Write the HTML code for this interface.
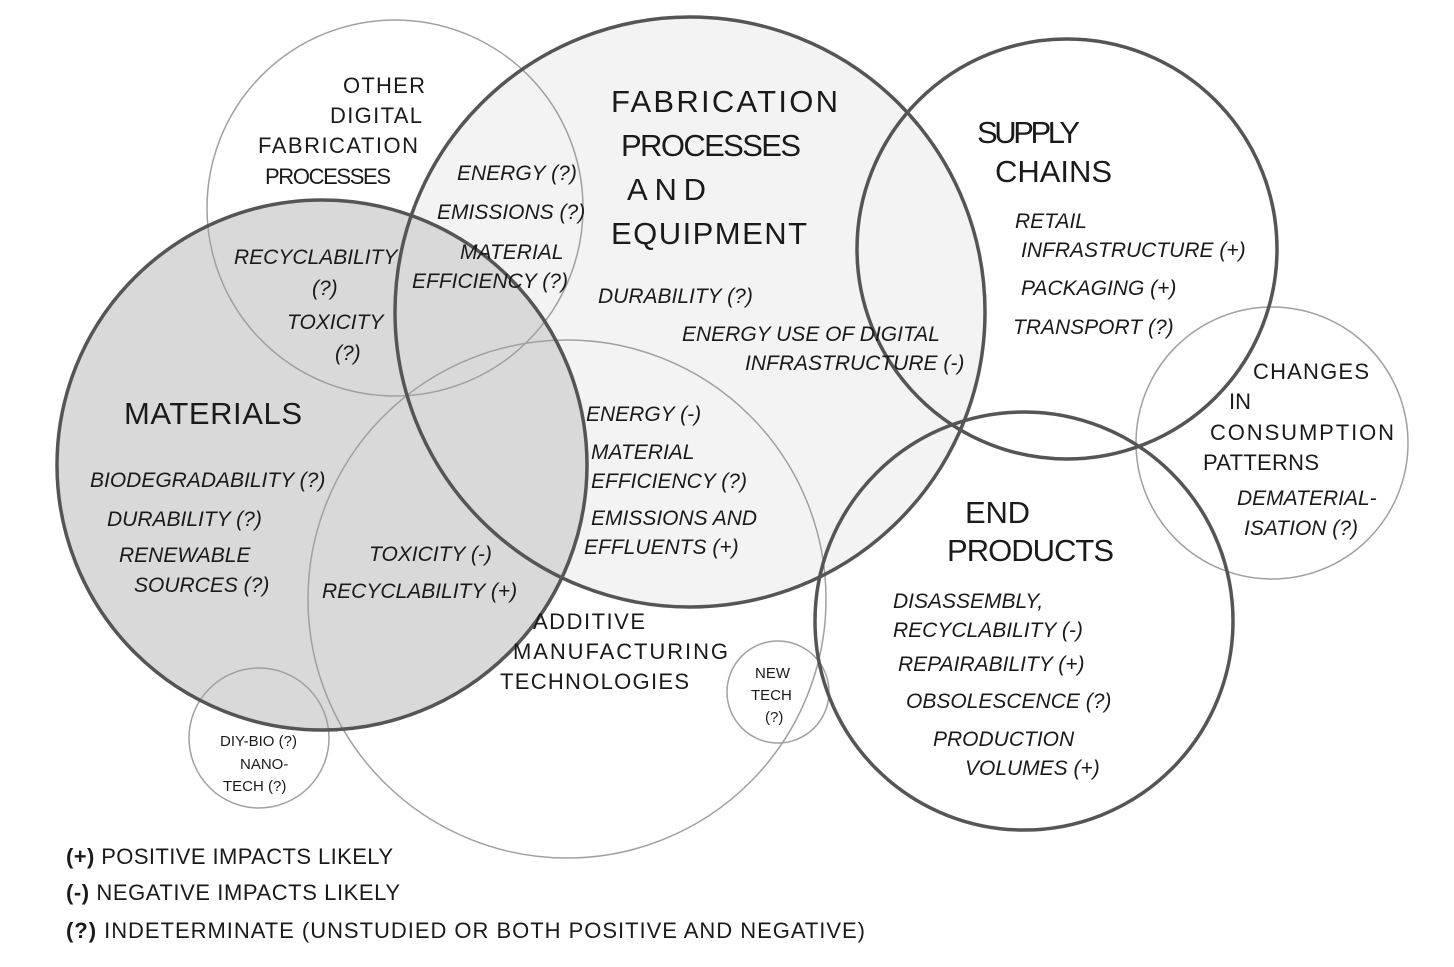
<!DOCTYPE html>
<html><head><style>
body{margin:0;background:#fff;}
svg text{font-family:"Liberation Sans",sans-serif;fill:#1a1a1a;}
.i{font-style:italic;font-size:21px;}
.h{font-size:31px;}
.m{font-size:22px;}
</style></head><body>
<svg width="1454" height="962" xmlns="http://www.w3.org/2000/svg">
<rect width="1454" height="962" fill="#fff"/>
<circle cx="690" cy="312" r="295" fill="#f3f3f3"/>
<circle cx="322" cy="465" r="265" fill="#d9d9d9"/>
<g fill="none" stroke="#a0a0a0" stroke-width="1.5">
<circle cx="395" cy="208" r="188"/>
<circle cx="567" cy="599" r="259"/>
<circle cx="1272" cy="443" r="136"/>
<circle cx="259" cy="738" r="70"/>
<circle cx="778" cy="692" r="51"/>
</g>
<g fill="none" stroke="#555" stroke-width="3.5">
<circle cx="690" cy="312" r="295"/>
<circle cx="322" cy="465" r="265"/>
<circle cx="1067" cy="249" r="210"/>
<circle cx="1024" cy="621" r="209"/>
</g>
<g class="m" lengthAdjust="spacingAndGlyphs">
<text x="343" y="93" textLength="82">OTHER</text><text x="330" y="123" textLength="92">DIGITAL</text>
<text x="258" y="153" textLength="160">FABRICATION</text><text x="265" y="184" textLength="126">PROCESSES</text>
<text x="533" y="629" textLength="112">ADDITIVE</text><text x="513" y="659" textLength="215">MANUFACTURING</text>
<text x="500" y="689" textLength="189">TECHNOLOGIES</text>
<text x="1253" y="379" textLength="116">CHANGES</text><text x="1229" y="409" textLength="22">IN</text>
<text x="1210" y="440" textLength="184">CONSUMPTION</text><text x="1203" y="470" textLength="116">PATTERNS</text>
</g>
<g class="h" lengthAdjust="spacingAndGlyphs">
<text x="611" y="112" textLength="227">FABRICATION</text><text x="621" y="156" textLength="180">PROCESSES</text>
<text x="627" y="200" textLength="79">AND</text><text x="611" y="244" textLength="196">EQUIPMENT</text>
<text x="977" y="143" textLength="103">SUPPLY</text><text x="995" y="182" textLength="117">CHAINS</text>
<text x="124" y="424" textLength="178">MATERIALS</text>
<text x="965" y="523" textLength="65">END</text><text x="947" y="561" textLength="167">PRODUCTS</text>
</g>
<g class="i">
<text x="457" y="180">ENERGY (?)</text>
<text x="437" y="219">EMISSIONS (?)</text>
<text x="460" y="259">MATERIAL</text><text x="412" y="288">EFFICIENCY (?)</text>
<text x="234" y="264">RECYCLABILITY</text><text x="312" y="295">(?)</text>
<text x="287" y="329">TOXICITY</text><text x="335" y="360">(?)</text>
<text x="598" y="303">DURABILITY (?)</text>
<text x="682" y="341">ENERGY USE OF DIGITAL</text>
<text x="745" y="370">INFRASTRUCTURE (-)</text>
<text x="1015" y="228">RETAIL</text>
<text x="1021" y="257">INFRASTRUCTURE (+)</text>
<text x="1021" y="295">PACKAGING (+)</text>
<text x="1013" y="334">TRANSPORT (?)</text>
<text x="586" y="421">ENERGY (-)</text>
<text x="591" y="459">MATERIAL</text><text x="591" y="488">EFFICIENCY (?)</text>
<text x="591" y="525">EMISSIONS AND</text><text x="584" y="554">EFFLUENTS (+)</text>
<text x="90" y="487">BIODEGRADABILITY (?)</text>
<text x="107" y="526">DURABILITY (?)</text>
<text x="119" y="562">RENEWABLE</text><text x="134" y="592">SOURCES (?)</text>
<text x="369" y="561">TOXICITY (-)</text>
<text x="322" y="598">RECYCLABILITY (+)</text>
<text x="1237" y="505">DEMATERIAL-</text><text x="1244" y="535">ISATION (?)</text>
<text x="893" y="608">DISASSEMBLY,</text><text x="893" y="637">RECYCLABILITY (-)</text>
<text x="898" y="671">REPAIRABILITY (+)</text>
<text x="906" y="708">OBSOLESCENCE (?)</text>
<text x="933" y="746">PRODUCTION</text><text x="965" y="775">VOLUMES (+)</text>
</g>
<g font-size="15">
<text x="220" y="746">DIY-BIO (?)</text><text x="240" y="769">NANO-</text><text x="223" y="791">TECH (?)</text>
<text x="755" y="678">NEW</text><text x="751" y="700">TECH</text><text x="765" y="722">(?)</text>
</g>
<g font-size="22" lengthAdjust="spacingAndGlyphs">
<text x="66" y="864" textLength="327"><tspan font-weight="bold">(+)</tspan> POSITIVE IMPACTS LIKELY</text>
<text x="66" y="900" textLength="334"><tspan font-weight="bold">(-)</tspan> NEGATIVE IMPACTS LIKELY</text>
<text x="66" y="938" textLength="799"><tspan font-weight="bold">(?)</tspan> INDETERMINATE (UNSTUDIED OR BOTH POSITIVE AND NEGATIVE)</text>
</g>
</svg>
</body></html>
